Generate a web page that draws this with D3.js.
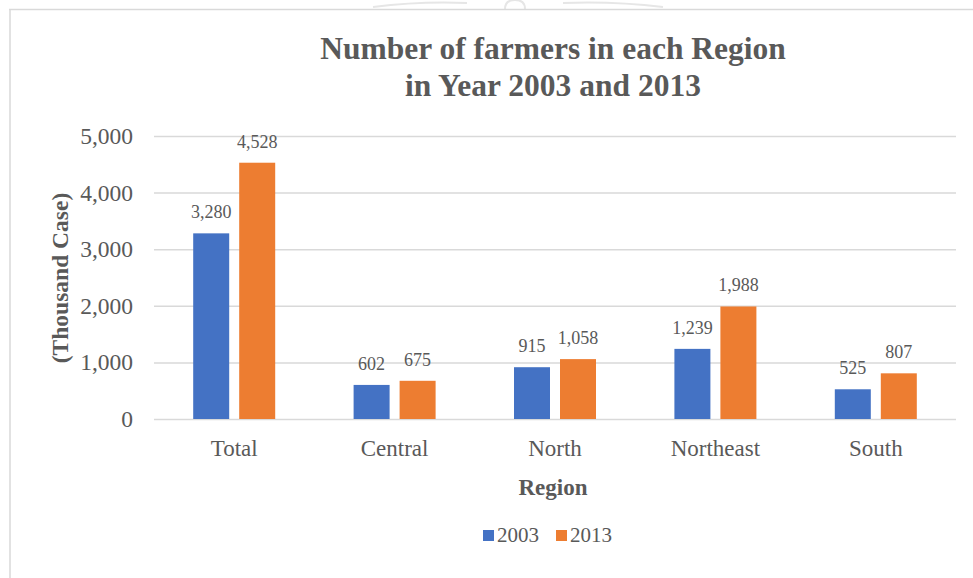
<!DOCTYPE html>
<html>
<head>
<meta charset="utf-8">
<script src="https://cdn.jsdelivr.net/npm/d3@7"></script>
<style>
  html, body { margin: 0; padding: 0; background: #fff; }
  svg { display: block; }
  text { font-family: "Liberation Serif", "Times New Roman", serif; fill: #595959; }
</style>
</head>
<body>
<svg id="chart" width="973" height="578"></svg>
<script>
// Farmers per region, thousand cases
const regions = ["Total", "Central", "North", "Northeast", "South"];
const years = ["2003", "2013"];
const farmers2003 = [3280, 602, 915, 1239, 525];
const farmers2013 = [4528, 675, 1058, 1988, 807];
const yTicks = [0, 1000, 2000, 3000, 4000, 5000];
const colors = ["#4472C4", "#ED7D31"];

const rows = regions.map((r, i) => ({ region: r, values: [farmers2003[i], farmers2013[i]] }));

const svg = d3.select("#chart");
const W = 973, H = 578;
const plot = { left: 154, right: 956, top: 136, bottom: 419 };

svg.append("rect").attr("width", W).attr("height", H).attr("fill", "#fff");

// faint emblem strokes peeking above the frame
const mark = svg.append("g").attr("fill", "none").attr("stroke", "#e6e6e6").attr("stroke-width", 2);
mark.append("path").attr("d", "M373,7 Q420,1 467,3");
mark.append("path").attr("d", "M563,3 Q613,1 663,7");
mark.append("path").attr("d", "M505,9 Q505,0 515,0 Q525,0 525,9");

// chart frame (top and left edges)
svg.append("line").attr("x1", 9).attr("x2", W).attr("y1", 9.5).attr("y2", 9.5)
  .attr("stroke", "#d9d9d9").attr("stroke-width", 1.5);
svg.append("line").attr("x1", 10).attr("x2", 10).attr("y1", 9).attr("y2", H)
  .attr("stroke", "#d9d9d9").attr("stroke-width", 1.5);

const y = d3.scaleLinear().domain([0, 5000]).range([plot.bottom, plot.top]);
const x0 = d3.scaleBand().domain(regions).range([plot.left, plot.right]).paddingInner(0).paddingOuter(0);
const groupW = 82;
const x1 = d3.scaleBand().domain(years)
  .range([(x0.bandwidth() - groupW) / 2, (x0.bandwidth() + groupW) / 2])
  .paddingInner(10 / 46).paddingOuter(0);

// gridlines + y tick labels
const yAxis = d3.axisLeft(y).tickValues(yTicks).tickSize(-(plot.right - plot.left))
  .tickFormat(d3.format(",")).tickPadding(21);
const gy = svg.append("g").attr("transform", `translate(${plot.left},0)`).call(yAxis);
gy.select(".domain").remove();
gy.selectAll(".tick line").attr("stroke", "#d9d9d9").attr("stroke-width", 1.5);
gy.selectAll(".tick text").attr("font-size", 23.5).attr("fill", "#595959")
  .style("font-family", "'Liberation Serif', serif");

// category axis labels
const xAxis = d3.axisBottom(x0).tickSize(0).tickPadding(21);
const gx = svg.append("g").attr("transform", `translate(0,${plot.bottom})`).call(xAxis);
gx.select(".domain").remove();
gx.selectAll(".tick text").attr("font-size", 23).attr("fill", "#595959")
  .style("font-family", "'Liberation Serif', serif");

// bars
const groups = svg.append("g").selectAll("g").data(rows).join("g")
  .attr("transform", d => `translate(${x0(d.region)},0)`);

groups.selectAll("rect").data(d => d.values.map((v, i) => ({ year: years[i], v, i })))
  .join("rect")
  .attr("x", d => x1(d.year))
  .attr("width", x1.bandwidth())
  .attr("y", d => y(d.v))
  .attr("height", d => y(0) - y(d.v))
  .attr("fill", d => colors[d.i]);

groups.selectAll("text.val").data(d => d.values.map((v, i) => ({ year: years[i], v, i })))
  .join("text")
  .attr("class", "val")
  .attr("x", d => x1(d.year) + x1.bandwidth() / 2)
  .attr("y", d => y(d.v) - 15)
  .attr("text-anchor", "middle")
  .attr("font-size", 18)
  .text(d => d3.format(",")(d.v));

// titles
const title = svg.append("text").attr("x", 553).attr("text-anchor", "middle")
  .attr("font-size", 31.5).attr("font-weight", "bold");
title.append("tspan").attr("x", 553).attr("y", 59).text("Number of farmers in each Region");
title.append("tspan").attr("x", 553).attr("y", 96).text("in Year 2003 and 2013");

svg.append("text").attr("x", 553).attr("y", 495).attr("text-anchor", "middle")
  .attr("font-size", 23).attr("font-weight", "bold").text("Region");

svg.append("text").attr("transform", "translate(68,278) rotate(-90)")
  .attr("text-anchor", "middle").attr("font-size", 23.5).attr("font-weight", "bold")
  .text("(Thousand Case)");

// legend
const legend = svg.append("g");
const legendX = [483, 556];
years.forEach((yr, i) => {
  legend.append("rect").attr("x", legendX[i]).attr("y", 530).attr("width", 11).attr("height", 11)
    .attr("fill", colors[i]);
  legend.append("text").attr("x", legendX[i] + 14).attr("y", 541.5)
    .attr("font-size", 21).text(yr);
});
</script>
</body>
</html>
